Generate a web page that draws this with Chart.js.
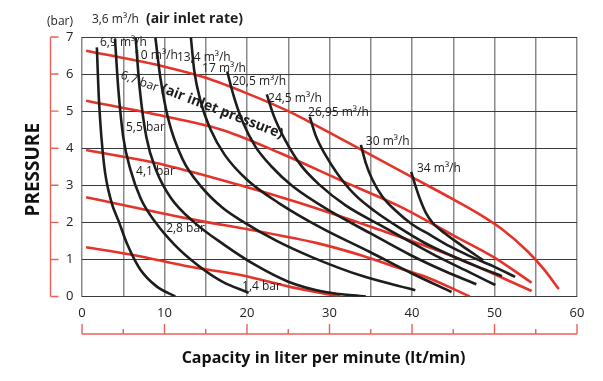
<!DOCTYPE html>
<html><head><meta charset="utf-8">
<script src="https://cdn.jsdelivr.net/npm/chart.js@4.4.1/dist/chart.umd.min.js"></script>
<style>html,body{margin:0;padding:0;background:#fff;}#wrap{width:603px;height:381px;}</style>
</head><body><div id="wrap"><canvas id="c" width="603" height="381"></canvas></div>
<script>
// ---- data ----
const xTickLabels = ['0','10','20','30','40','50','60'];
const yTickLabels = ['0','1','2','3','4','5','6','7'];

const rateLabels = ['3,6 m³/h','6,9 m³/h','10 m³/h','13,4 m³/h','17 m³/h','20,5 m³/h','24,5 m³/h','26,95 m³/h','30 m³/h','34 m³/h'];
const rate3_6  = [[1.8,6.72],[2.06,5.28],[2.65,3.6],[3.5,2.6],[4.5,2.0],[5.5,1.4],[7.0,0.75],[9.0,0.28],[11.3,0]];
const rate6_9  = [[4.0,6.95],[4.4,5.6],[5.0,4.3],[5.9,3.4],[7.1,2.65],[8.9,2.0],[11.2,1.4],[14,0.85],[17,0.4],[20.2,0.1]];
const rate10   = [[6.5,6.98],[7.0,5.6],[7.8,4.3],[9.0,3.4],[10.8,2.65],[13.6,2.0],[17.2,1.4],[21,0.85],[25,0.4],[29.5,0.12],[34.4,0]];
const rate13_4 = [[8.9,6.98],[9.5,5.9],[10.5,4.75],[12.2,3.7],[14.5,2.95],[17,2.4],[19.5,2.02],[23.6,1.5],[28,1.05],[34,0.55],[40.4,0.17]];
const rate17   = [[13.2,6.98],[13.6,6.1],[14.4,5.25],[15.6,4.5],[17.3,3.82],[20,3.15],[24,2.5],[29,1.85],[34.9,1.2],[40,0.62],[44.8,0.12]];
const rate20_5 = [[17.6,6.07],[18.4,5.4],[19.5,4.7],[21,4.05],[23,3.5],[25.5,2.98],[30.1,2.3],[35,1.7],[39.8,1.12],[44,0.68],[47.8,0.33]];
const rate24_5 = [[22.4,5.45],[23.2,4.9],[24.6,4.23],[26.5,3.55],[28.8,3.01],[32,2.45],[36.1,1.93],[40,1.45],[43.4,1.04],[47,0.65],[50.1,0.31]];
const rate26_95= [[27.6,4.85],[28.4,4.3],[29.5,3.82],[31,3.3],[33.1,2.74],[35.5,2.3],[38.5,1.85],[41.5,1.45],[44.6,1.12],[48,0.8],[50.9,0.55]];
const rate30   = [[33.8,4.09],[34.4,3.6],[35.2,3.15],[36.4,2.7],[37.9,2.34],[40,1.95],[42.2,1.66],[44.6,1.35],[47,1.09],[50,0.8],[52.5,0.53]];
const rate34   = [[39.9,3.36],[40.4,3.0],[41.0,2.61],[41.7,2.25],[42.5,1.99],[44,1.7],[46,1.38],[48.6,0.98]];

const pressureLabels = ['6,7 bar','5,5 bar','4,1 bar','2,8 bar','1,4 bar'];
const pressure6_7 = [[0.5,6.63],[10,6.2],[15,5.9],[20,5.48],[25,5.0],[30,4.42],[35,3.82],[40,3.22],[45,2.62],[48,2.24],[51,1.8],[54,1.22],[56,0.73],[57.8,0.2]];
const pressure5_5 = [[0.5,5.28],[10,4.86],[17.2,4.48],[24,3.87],[31.3,3.14],[38.5,2.43],[45,1.65],[50,1.05],[54.5,0.37]];
const pressure4_1 = [[0.5,3.95],[10,3.55],[19.2,3.0],[26.4,2.52],[35,1.88],[45,1.08],[54.5,0.15]];
const pressure2_8 = [[0.5,2.68],[14.3,2.04],[20.4,1.8],[28.5,1.44],[34,1.1],[38.5,0.76],[42,0.5],[47,0]];
const pressure1_4 = [[0.5,1.33],[6.2,1.12],[13.1,0.8],[19.2,0.58],[25.2,0.26],[31.3,0]];

const xTitle = 'Capacity in liter per minute (lt/min)';
const yTitle = 'PRESSURE';
const yUnit = '(bar)';
const rateTitle = '(air inlet rate)';
const pressureTitle = '(air inlet pressure)';

// ---- styling / annotation anchors (data space) ----
const rateSeries = [rate3_6, rate6_9, rate10, rate13_4, rate17, rate20_5, rate24_5, rate26_95, rate30, rate34];
const pressureSeries = [pressure6_7, pressure5_5, pressure4_1, pressure2_8, pressure1_4];
const rateAnchors = [[1.2,7.47],[2.18,6.85],[6.3,6.51],[11.5,6.45],[14.55,6.15],[18.2,5.8],[22.55,5.35],[27.4,4.96],[34.4,4.18],[40.6,3.45]];
const pressureAnchors = [[6.97,5.8],[5.33,4.55],[6.55,3.36],[10.2,1.82],[19.4,0.28]];
const pressureTitleAnchor = [17.0,4.99];

const BLACK = '#1d1d1b', RED = '#e5332a', AXISRED = '#e8625b';
const toPts = a => a.map(p => ({x:p[0], y:p[1]}));

const datasets = [];
rateSeries.forEach((s,i)=>datasets.push({label:rateLabels[i], data:toPts(s), borderColor:BLACK, borderWidth:2.6, showLine:true, pointRadius:0, cubicInterpolationMode:'monotone', order:0}));
pressureSeries.forEach((s,i)=>datasets.push({label:pressureLabels[i], data:toPts(s), borderColor:RED, borderWidth:2.6, showLine:true, pointRadius:0, cubicInterpolationMode:'monotone', order:1}));

const deco = {
  id:'deco',
  afterDraw(chart){
    const {ctx, scales:{x, y}, chartArea:ca} = chart;
    ctx.save();
    // red axes
    ctx.strokeStyle = AXISRED; ctx.lineWidth = 1.4;
    const ax = ca.left - 31.5;
    ctx.beginPath();
    ctx.moveTo(ax, y.getPixelForValue(7)); ctx.lineTo(ax, y.getPixelForValue(0));
    for (let v=0; v<=7; v++){ const py=y.getPixelForValue(v); ctx.moveTo(ax, py); ctx.lineTo(ax+8, py); }
    const ay = ca.bottom + 37.5;
    ctx.moveTo(x.getPixelForValue(0), ay); ctx.lineTo(x.getPixelForValue(60), ay);
    for (let v=0; v<=60; v+=5){ const px=x.getPixelForValue(v); const L = v%10===0?10:5; ctx.moveTo(px, ay); ctx.lineTo(px, ay-L); }
    ctx.stroke();

    // titles
    ctx.fillStyle = '#111'; ctx.textBaseline='middle'; ctx.textAlign='center';
    ctx.font = 'bold 16px "Open Sans"';
    ctx.fillText(xTitle, (ca.left+ca.right)/2 - 6, ca.bottom + 61.5);
    ctx.save(); ctx.translate(ca.left - 48.5, (ca.top+ca.bottom)/2 + 3); ctx.rotate(-Math.PI/2);
    ctx.font = 'bold 19px "Open Sans"'; ctx.fillText(yTitle, 0, 0); ctx.restore();

    // labels
    ctx.fillStyle = BLACK; ctx.textAlign='left';
    ctx.font = '12px "Open Sans"';
    ctx.fillText(yUnit, ca.left-35, ca.top-15);
    rateLabels.forEach((t,i)=>{ const a=rateAnchors[i]; ctx.fillText(t, x.getPixelForValue(a[0]), y.getPixelForValue(a[1])); });
    const a0 = rateAnchors[0];
    const w0 = ctx.measureText(rateLabels[0]).width;
    ctx.font = 'bold 14px "Open Sans"';
    ctx.fillText(rateTitle, x.getPixelForValue(a0[0]) + w0 + 7, y.getPixelForValue(a0[1]) - 1);
    ctx.font='12px "Open Sans"';
    pressureLabels.forEach((t,i)=>{ if(i===0) return; const a=pressureAnchors[i]; ctx.fillText(t, x.getPixelForValue(a[0]), y.getPixelForValue(a[1])); });
    const rot = (txt, a, ang, font) => { ctx.save(); ctx.translate(x.getPixelForValue(a[0]), y.getPixelForValue(a[1])); ctx.rotate(ang*Math.PI/180); ctx.font=font; ctx.textAlign='center'; ctx.fillText(txt,0,0); ctx.restore(); };
    rot(pressureLabels[0], pressureAnchors[0], 20, '12px "Open Sans"');
    rot(pressureTitle, pressureTitleAnchor, 21, 'bold 14px "Open Sans"');
    ctx.restore();
  }
};

Chart.defaults.font.family = '"Open Sans"';
new Chart(document.getElementById('c'), {
  type:'scatter',
  data:{datasets},
  options:{
    responsive:false, animation:false,
    layout:{padding:{top:37, right:26, left:0, bottom:0}},
    plugins:{legend:{display:false}, tooltip:{enabled:false}},
    scales:{
      x:{type:'linear', min:0, max:60,
        ticks:{stepSize:5, autoSkip:false, maxRotation:0, padding:9, color:'#222', font:{size:13},
          callback:v => (v%10===0 ? xTickLabels[v/10] : '')},
        grid:{color:'#8a8a8a', lineWidth:1.5, drawTicks:false},
        border:{display:false},
        afterFit:s=>{s.height = 84.5;}
      },
      y:{type:'linear', min:0, max:7,
        ticks:{stepSize:1, padding:8.5, color:'#222', font:{size:13}, callback:v => yTickLabels[v]},
        grid:{color:'#3a3a3a', lineWidth:1, drawTicks:false},
        border:{display:false},
        afterFit:s=>{s.width = 82;}
      }
    }
  },
  plugins:[deco]
});
</script></body></html>
